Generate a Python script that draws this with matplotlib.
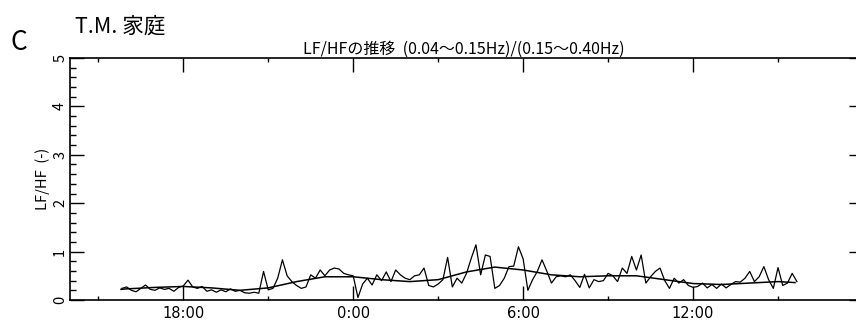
import numpy as np
import matplotlib
matplotlib.use("Agg")
import matplotlib.pyplot as plt
from matplotlib.ticker import MultipleLocator, FixedLocator

plt.rcParams['font.family'] = ['Noto Sans CJK JP', 'DejaVu Sans']

# 時刻 (時間, 24以降は翌日)
t_start = 15 + 50 / 60
lfhf_raw = [
    0.24, 0.27,
    0.20, 0.17, 0.24, 0.31, 0.22, 0.20,
    0.25, 0.22, 0.24, 0.18, 0.26, 0.29,
    0.41, 0.27, 0.24, 0.28, 0.18, 0.21,
    0.16, 0.21, 0.17, 0.23, 0.18, 0.20,
    0.15, 0.14, 0.16, 0.14, 0.59, 0.21,
    0.24, 0.45, 0.83, 0.50, 0.38, 0.30,
    0.24, 0.27, 0.52, 0.45, 0.62, 0.50,
    0.62, 0.66, 0.64, 0.55, 0.52, 0.50,
    0.05, 0.33, 0.45, 0.31, 0.52, 0.40,
    0.58, 0.38, 0.62, 0.52, 0.45, 0.42,
    0.50, 0.52, 0.66, 0.30, 0.27, 0.33,
    0.42, 0.88, 0.27, 0.45, 0.35, 0.55,
    0.86, 1.14, 0.52, 0.93, 0.90, 0.24,
    0.30, 0.45, 0.69, 0.70, 1.10, 0.85,
    0.20, 0.42, 0.59, 0.83, 0.60, 0.35,
    0.48, 0.50, 0.48, 0.52, 0.40, 0.26,
    0.53, 0.25, 0.42, 0.38, 0.40, 0.55,
    0.50, 0.38, 0.66, 0.55, 0.90, 0.62,
    0.93, 0.35, 0.48, 0.59, 0.66, 0.40,
    0.24, 0.45, 0.35, 0.42, 0.30, 0.26,
    0.28, 0.35, 0.25, 0.32, 0.24, 0.33,
    0.25, 0.32, 0.38, 0.37, 0.45, 0.59,
    0.38, 0.48, 0.69, 0.42, 0.24, 0.67,
    0.30, 0.35, 0.55, 0.38,
]
t_raw = t_start + np.arange(len(lfhf_raw)) / 6

t_smooth = [15.8, 16, 17, 18, 19, 20, 21, 22, 23, 24, 25, 26, 27, 28, 29,
            30, 31, 32, 33, 34, 35, 36, 37, 38, 39, 39.6]
lfhf_smooth = [0.22, 0.23, 0.26, 0.28, 0.25, 0.20, 0.25, 0.38, 0.48, 0.48,
               0.42, 0.38, 0.42, 0.58, 0.68, 0.62, 0.52, 0.48, 0.50, 0.50,
               0.42, 0.34, 0.32, 0.35, 0.38, 0.36]

xticks = [18, 24, 30, 36]
xlabels = ["18:00", "0:00", "6:00", "12:00"]

fig = plt.figure(figsize=(8.56, 3.21), dpi=100)
ax = fig.add_axes([70 / 856, 1 - 300 / 321, (863 - 70) / 856, (300 - 58) / 321])

ax.plot(t_raw, lfhf_raw, color='black', lw=0.9)
ax.plot(t_smooth, lfhf_smooth, color='black', lw=1.1)

ax.set_xlim(14, 42)
ax.set_ylim(0, 5)
ax.xaxis.set_major_locator(FixedLocator(xticks))
ax.set_xticklabels(xlabels, fontsize=10.5, family=['DejaVu Sans'])
ax.xaxis.set_minor_locator(FixedLocator([15, 21, 27, 33, 39]))
ax.yaxis.set_major_locator(MultipleLocator(1))
ax.yaxis.set_minor_locator(MultipleLocator(0.2))
ax.tick_params(axis='x', which='both', direction='in', top=True)
ax.tick_params(axis='x', which='major', length=10, width=1, pad=4)
ax.tick_params(axis='x', which='minor', length=3, width=1)
ax.tick_params(axis='y', which='major', direction='in', right=True, length=10, width=1, pad=2)
ax.tick_params(axis='y', which='minor', direction='in', length=4, width=1)
for lab in ax.get_yticklabels():
    lab.set_rotation(90)
    lab.set_va('center')
    lab.set_fontsize(10.5)
for sp in ax.spines.values():
    sp.set_linewidth(1.2)

ax.set_ylabel("LF/HF  (-)", fontsize=10.5, labelpad=2)
ax.set_title("LF/HFの推移  (0.04～0.15Hz)/(0.15～0.40Hz)", fontsize=11.5, pad=1,
             x=(464 - 70) / (863 - 70))

fig.text(10 / 856, 1 - 42 / 321, "C", fontsize=19, va='center', ha='left')
fig.text(75 / 856, 1 - 27 / 321, "T.M. 家庭", fontsize=15.5, va='center', ha='left')

fig.savefig("out.png", dpi=100)
